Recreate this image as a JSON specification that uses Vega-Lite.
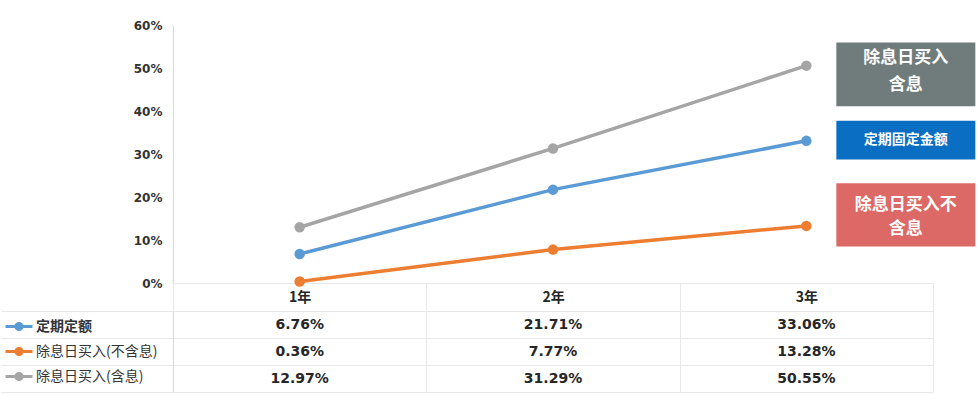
{
  "$schema": "https://vega.github.io/schema/vega-lite/v6.json",
  "padding": {"left": 0, "top": 19, "right": 0, "bottom": 0},
  "autosize": {"type": "pad"},
  "bounds": "flush",
  "spacing": 28,
  "config": {"view": {"stroke": null}, "font": "Noto Sans CJK SC"},
  "datasets": {
    "series": [
      {"series": "定期定额", "year": "1年", "value": 0.0676},
      {"series": "定期定额", "year": "2年", "value": 0.2171},
      {"series": "定期定额", "year": "3年", "value": 0.3306},
      {"series": "除息日买入(不含息)", "year": "1年", "value": 0.0036},
      {"series": "除息日买入(不含息)", "year": "2年", "value": 0.0777},
      {"series": "除息日买入(不含息)", "year": "3年", "value": 0.1328},
      {"series": "除息日买入(含息)", "year": "1年", "value": 0.1297},
      {"series": "除息日买入(含息)", "year": "2年", "value": 0.3129},
      {"series": "除息日买入(含息)", "year": "3年", "value": 0.5055}
    ]
  },
  "vconcat": [
    {
      "width": 760,
      "height": 258,
      "data": {"name": "series"},
      "encoding": {
        "x": {
          "field": "year", "type": "ordinal", "bandPosition": 0.5,
          "scale": {"type": "band", "paddingInner": 0, "paddingOuter": 0},
          "axis": {"title": null, "labelAngle": 0, "tickBand": "extent", "tickSize": 28, "tickColor": "#e8e8e8", "domainColor": "#e8e8e8", "labelPadding": -14, "labelBaseline": "middle", "labelFont": "Noto Sans CJK SC", "labelFontWeight": "bold", "labelFontSize": 14, "labelColor": "#262626", "grid": false}
        },
        "y": {
          "field": "value", "type": "quantitative",
          "scale": {"domain": [0, 0.6], "nice": false},
          "axis": {"title": null, "values": [0, 0.1, 0.2, 0.3, 0.4, 0.5, 0.6], "format": ".0%", "ticks": false, "grid": false, "domainColor": "#d9d9d9", "labelPadding": 11, "labelFont": "DejaVu Sans", "labelFontWeight": "bold", "labelFontSize": 12, "labelColor": "#333333"}
        }
      },
      "layer": [
        {
          "mark": {"type": "line", "strokeWidth": 3.5},
          "encoding": {
            "color": {
              "field": "series", "type": "nominal",
              "scale": {"domain": ["定期定额", "除息日买入(不含息)", "除息日买入(含息)"], "range": ["#5b9bd5", "#ed7d31", "#a5a5a5"]},
              "legend": {"title": null, "orient": "none", "legendX": -169, "legendY": 286.5, "symbolType": "M-1,0L1,0M0.23,0A0.23,0.23 0 1,1 -0.23,0A0.23,0.23 0 1,1 0.23,0", "symbolSize": 729, "symbolStrokeWidth": 3, "symbolOpacity": 1, "labelFont": "Noto Sans CJK SC", "labelFontSize": 14, "labelColor": "#333333", "labelOffset": 2, "rowPadding": 0, "labelLimit": 200,
                "encode": {
                  "symbols": {"update": {"fill": {"scale": "color", "field": "value"}, "stroke": {"scale": "color", "field": "value"}}},
                  "labels": {"update": {"fontWeight": {"signal": "datum.value === '定期定额' ? 'bold' : 'normal'"}}}
                }
              }
            }
          }
        },
        {
          "mark": {"type": "point", "filled": true, "size": 110, "opacity": 1},
          "encoding": {
            "color": {
              "field": "series", "type": "nominal",
              "scale": {"domain": ["定期定额", "除息日买入(不含息)", "除息日买入(含息)"], "range": ["#5b9bd5", "#ed7d31", "#a5a5a5"]},
              "legend": {"title": null, "orient": "none", "legendX": -169, "legendY": 286.5, "symbolType": "M-1,0L1,0M0.23,0A0.23,0.23 0 1,1 -0.23,0A0.23,0.23 0 1,1 0.23,0", "symbolSize": 729, "symbolStrokeWidth": 3, "symbolOpacity": 1, "labelFont": "Noto Sans CJK SC", "labelFontSize": 14, "labelColor": "#333333", "labelOffset": 2, "rowPadding": 0, "labelLimit": 200,
                "encode": {
                  "symbols": {"update": {"fill": {"scale": "color", "field": "value"}, "stroke": {"scale": "color", "field": "value"}}},
                  "labels": {"update": {"fontWeight": {"signal": "datum.value === '定期定额' ? 'bold' : 'normal'"}}}
                }
              }
            }
          }
        },
        {
          "transform": [{"filter": "datum.year === '3年' && datum.series === '除息日买入(含息)'"}],
          "mark": {"type": "point", "filled": true, "opacity": 1, "color": "#707c7c", "shape": "M-1,-0.458L1,-0.458L1,0.458L-1,0.458Z", "size": 19321, "xOffset": 99.5, "yOffset": 8.8, "strokeWidth": 0}
        },
        {
          "transform": [{"filter": "datum.year === '3年' && datum.series === '定期定额'"}],
          "mark": {"type": "point", "filled": true, "opacity": 1, "color": "#0a6fc2", "shape": "M-1,-0.278L1,-0.278L1,0.278L-1,0.278Z", "size": 19321, "xOffset": 99.5, "yOffset": -0.7, "strokeWidth": 0}
        },
        {
          "transform": [{"filter": "datum.year === '3年' && datum.series === '除息日买入(不含息)'"}],
          "mark": {"type": "point", "filled": true, "opacity": 1, "color": "#dc6965", "shape": "M-1,-0.455L1,-0.455L1,0.455L-1,0.455Z", "size": 19321, "xOffset": 99.5, "yOffset": -11.1, "strokeWidth": 0}
        },
        {
          "transform": [{"filter": "datum.year === '3年' && datum.series === '除息日买入(含息)'"}],
          "mark": {"type": "text", "text": ["除息日买入", "含息"], "color": "white", "font": "Noto Sans CJK SC", "fontWeight": "bold", "fontSize": 17, "lineHeight": 27, "xOffset": 99.5, "yOffset": -7.5, "align": "center", "baseline": "middle"}
        },
        {
          "transform": [{"filter": "datum.year === '3年' && datum.series === '定期定额'"}],
          "mark": {"type": "text", "text": "定期固定金额", "color": "white", "font": "Noto Sans CJK SC", "fontWeight": "bold", "fontSize": 14, "xOffset": 99.5, "yOffset": -0.7, "align": "center", "baseline": "middle"}
        },
        {
          "transform": [{"filter": "datum.year === '3年' && datum.series === '除息日买入(不含息)'"}],
          "mark": {"type": "text", "text": ["除息日买入不", "含息"], "color": "white", "font": "Noto Sans CJK SC", "fontWeight": "bold", "fontSize": 17, "lineHeight": 24, "xOffset": 99.5, "yOffset": -20.5, "align": "center", "baseline": "middle"}
        }
      ]
    },
    {
      "width": 760,
      "height": 81,
      "data": {"name": "series"},
      "mark": {"type": "text", "font": "DejaVu Sans", "fontWeight": "bold", "fontSize": 14, "color": "#262626"},
      "encoding": {
        "x": {
          "field": "year", "type": "ordinal",
          "scale": {"type": "band", "paddingInner": 0, "paddingOuter": 0},
          "axis": {"title": null, "labels": false, "ticks": false, "domain": false, "grid": true, "tickBand": "extent", "gridColor": "#e8e8e8"}
        },
        "y": {
          "field": "series", "type": "nominal",
          "sort": ["定期定额", "除息日买入(不含息)", "除息日买入(含息)"],
          "scale": {"type": "band", "paddingInner": 0, "paddingOuter": 0},
          "axis": {"title": null, "labels": false, "tickBand": "extent", "tickSize": 172, "tickColor": "#e8e8e8", "grid": true, "gridColor": "#e8e8e8", "domainColor": "#d9d9d9"}
        },
        "text": {"field": "value", "type": "quantitative", "format": ".2%"}
      }
    }
  ]
}
